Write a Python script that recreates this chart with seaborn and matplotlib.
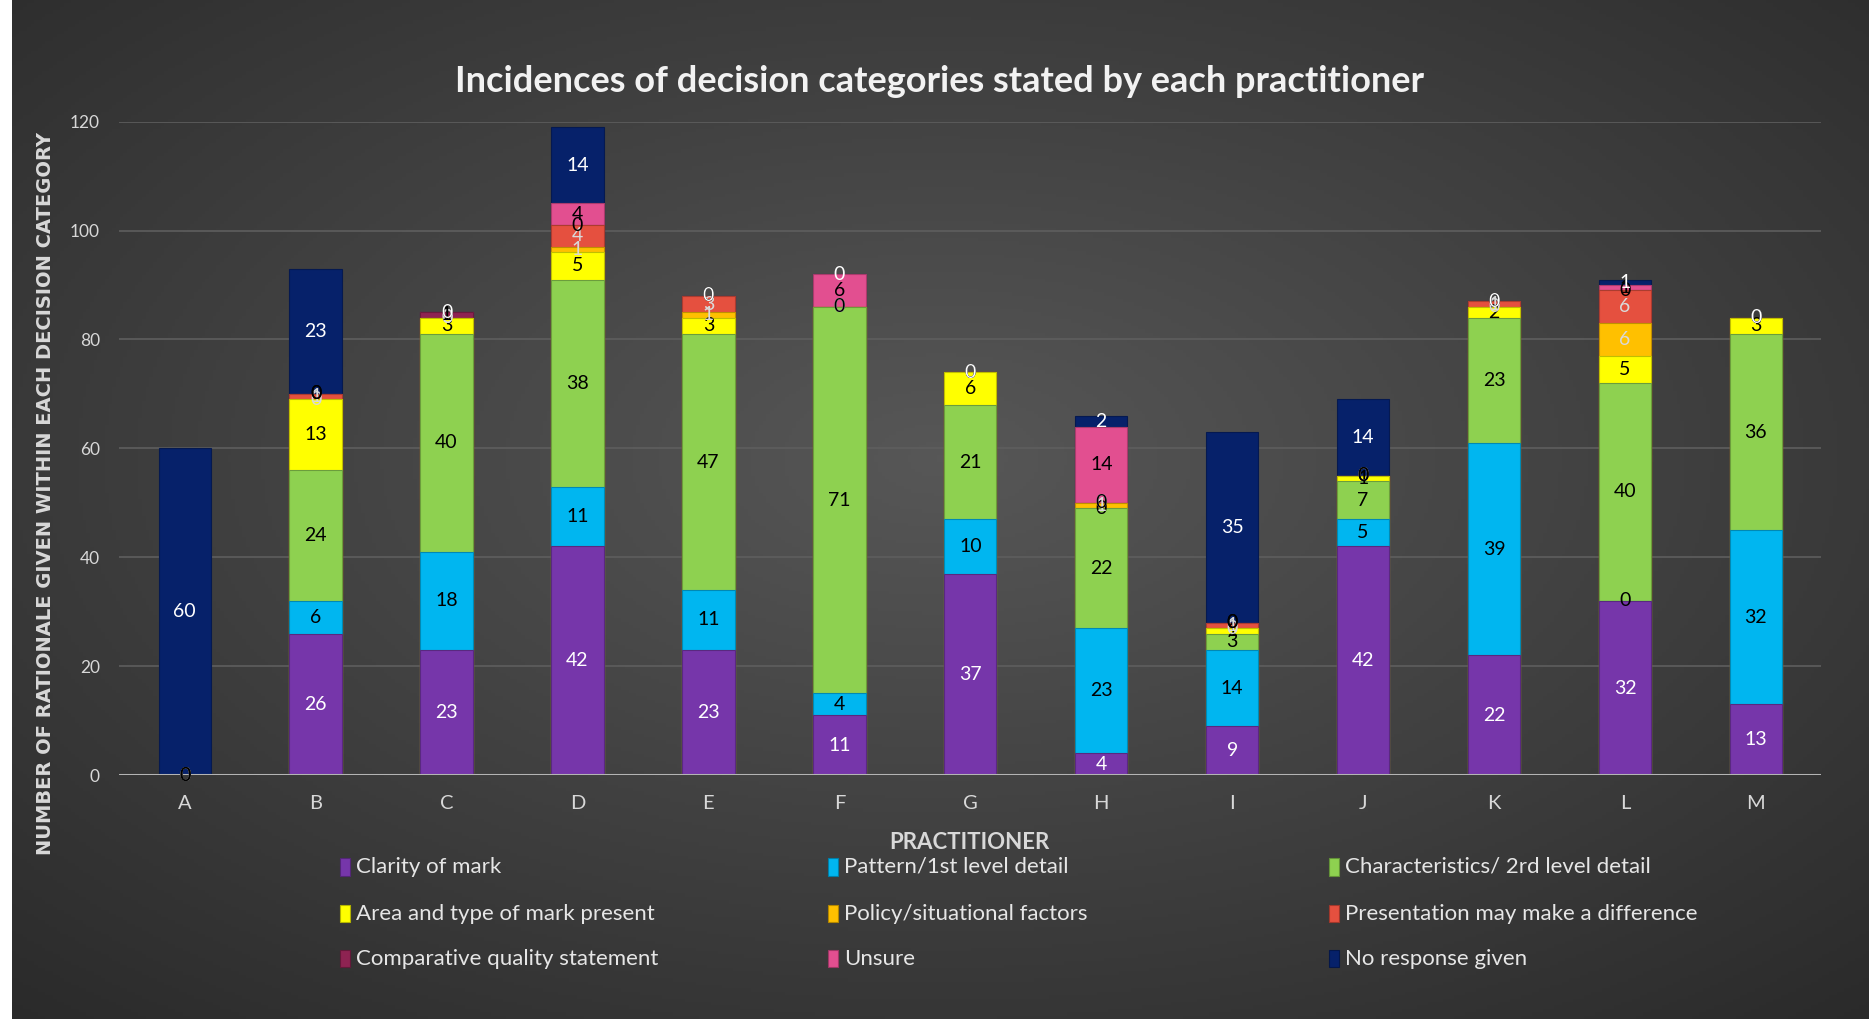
import numpy as np
import pandas as pd
import matplotlib
matplotlib.use("Agg")
import matplotlib.pyplot as plt
import matplotlib.colors as mcolors
from matplotlib.patches import Rectangle
import seaborn as sns

# ---------------- data ----------------
practitioners = ["A", "B", "C", "D", "E", "F", "G", "H", "I", "J", "K", "L", "M"]
categories = ["Clarity of mark", "Pattern/1st level detail", "Characteristics/ 2rd level detail",
              "Area and type of mark present", "Policy/situational factors",
              "Presentation may make a difference", "Comparative quality statement",
              "Unsure", "No response given"]
clarity = [0, 26, 23, 42, 23, 11, 37, 4, 9, 42, 22, 32, 13]
pattern = [0, 6, 18, 11, 11, 4, 10, 23, 14, 5, 39, 0, 32]
characteristics = [0, 24, 40, 38, 47, 71, 21, 22, 3, 7, 23, 40, 36]
area = [0, 13, 3, 5, 3, 0, 6, 0, 1, 1, 2, 5, 3]
policy = [0, 0, 0, 1, 1, 0, 0, 1, 0, 0, 0, 6, 0]
presentation = [0, 1, 0, 4, 3, 0, 0, 0, 1, 0, 1, 6, 0]
comparative = [0, 0, 1, 0, 0, 0, 0, 0, 0, 0, 0, 0, 0]
unsure = [0, 0, 0, 4, 0, 6, 0, 14, 0, 0, 0, 1, 0]
no_response = [60, 23, 0, 14, 0, 0, 0, 2, 35, 14, 0, 1, 0]
yticks = [0, 20, 40, 60, 80, 100, 120]

series = [clarity, pattern, characteristics, area, policy, presentation,
          comparative, unsure, no_response]
colors = ["#7636AA", "#00B6F0", "#8ED150", "#FFFF00", "#FFC000", "#E5503F",
          "#8E2352", "#E24F90", "#06216A"]
label_colors = ["white", "black", "black", "black", "#d9d9d9", "#d9d9d9",
                "black", "black", "white"]

vals = np.array(series, dtype=float)
cum = np.cumsum(vals, axis=0)
bottoms = cum - vals

# ---------------- figure ----------------
sns.set_theme(style="white")
plt.rcParams["font.family"] = ["Lato", "DejaVu Sans"]

fig = plt.figure(figsize=(18.69, 10.22), dpi=100)
fig.patch.set_facecolor("white")

# background gradient panel
bg = fig.add_axes([0.0064, 0.003, 0.9936, 0.997])
yy, xx = np.mgrid[0:1:300j, 0:1:500j]
d = np.sqrt(((xx - 0.5) / 0.75) ** 2 + ((yy - 0.45) / 0.75) ** 2)
cmap = mcolors.LinearSegmentedColormap.from_list("bg", ["#575757", "#2a2a2a"])
bg.imshow(np.clip(d, 0, 1), cmap=cmap, aspect="auto", extent=[0, 1, 0, 1], vmin=0, vmax=1)
bg.set_axis_off()

ax = fig.add_axes([0.0638, 0.2415, 0.9107, 0.6395])
ax.set_facecolor("none")

df = pd.DataFrame({"practitioner": practitioners})
for i in range(len(series) - 1, -1, -1):
    df["cum"] = cum[i]
    edge = tuple(np.array(mcolors.to_rgb(colors[i])) * 0.75)
    sns.barplot(data=df, x="practitioner", y="cum", order=practitioners,
                color=colors[i], saturation=1, width=0.4, ax=ax,
                edgecolor=edge, linewidth=0.8, zorder=3)

# data labels
for i in range(len(series)):
    for j in range(len(practitioners)):
        ax.text(j, bottoms[i, j] + vals[i, j] / 2, f"{int(vals[i, j])}",
                ha="center", va="center", color=label_colors[i],
                fontsize=14, zorder=5)

ax.set_xlim(-0.5, len(practitioners) - 0.5)
ax.set_ylim(0, 120)
ax.set_yticks(yticks)
ax.yaxis.grid(True, color="#5e5e5e", linewidth=1.2, zorder=0)
ax.set_axisbelow(True)
for s in ax.spines.values():
    s.set_visible(False)
ax.axhline(0, color="#b4b4b4", linewidth=2.2, zorder=4)
ax.tick_params(axis="x", colors="#d8d8d8", labelsize=14.5, length=0, pad=14)
ax.tick_params(axis="y", colors="#d8d8d8", labelsize=12.5, length=0, pad=14)
ax.set_xlabel("")
ax.set_ylabel("")

# titles
fig.text(0.5026, 0.9207, "Incidences of decision categories stated by each practitioner",
         ha="center", va="center", color="#f2f2f2", fontsize=26, fontweight="bold")
fig.text(0.0242, 0.517, "NUMBER OF RATIONALE GIVEN WITHIN EACH DECISION CATEGORY",
         rotation=90, ha="center", va="center", color="#d8d8d8", fontsize=14,
         fontweight="bold", family=["DejaVu Sans"])
fig.text(0.5185, 0.176, "PRACTITIONER", ha="center", va="center",
         color="#d8d8d8", fontsize=16, fontweight="bold")

# legend (3 columns, row-major)
col_x = [0.185, 0.446, 0.714]
row_y = [0.1517, 0.106, 0.0619]
for k, name in enumerate(categories):
    r, c = divmod(k, 3)
    x0, y0 = col_x[c], row_y[r]
    edge = tuple(np.array(mcolors.to_rgb(colors[k])) * 0.7)
    fig.patches.append(Rectangle((x0 - 0.003, y0 - 0.0085), 0.0055, 0.017,
                                 transform=fig.transFigure, facecolor=colors[k],
                                 edgecolor=edge, linewidth=0.8))
    fig.text(x0 + 0.0055, y0, name, ha="left", va="center", color="#e6e6e6",
             fontsize=16)

fig.savefig("out.png", dpi=100, facecolor=fig.get_facecolor())
